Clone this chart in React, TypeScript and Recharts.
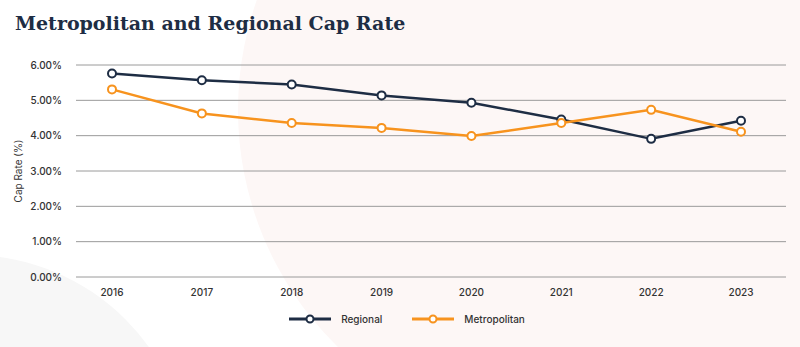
import React from "react";
import { LineChart, Line, XAxis, YAxis, CartesianGrid, Legend, Label } from "recharts";

const years = ["2016", "2017", "2018", "2019", "2020", "2021", "2022", "2023"];
const regional = [5.76, 5.57, 5.45, 5.14, 4.93, 4.46, 3.91, 4.42];
const metropolitan = [5.31, 4.63, 4.36, 4.22, 3.99, 4.36, 4.73, 4.11];
const yTicks = [0, 1, 2, 3, 4, 5, 6];
const legendOrder = ["Regional", "Metropolitan"];

const NAVY = "#1e2d44";
const ORANGE = "#f7931e";

const data = years.map((y, i) => ({ year: y, Regional: regional[i], Metropolitan: metropolitan[i] }));

// legend: line + hollow circle like the original
const renderLegend = (props: any) => {
    const items = [...(props.payload || [])].sort(
        (a: any, b: any) => legendOrder.indexOf(a.value) - legendOrder.indexOf(b.value)
    );
    return (
        <div style={{ display: "flex", justifyContent: "center", gap: 30, paddingTop: 6, paddingLeft: 18, fontFamily: "Inter", fontSize: 10, fontWeight: 500, color: "#333" }}>
            {items.map((it: any) => (
                <div key={it.value} style={{ display: "flex", alignItems: "center" }}>
                    <svg width={42} height={10} style={{ marginRight: 10 }}>
                        <line x1={0} y1={5} x2={42} y2={5} stroke={it.color} strokeWidth={3} />
                        <circle cx={21} cy={5} r={3.5} fill="#fff" stroke={it.color} strokeWidth={2} />
                    </svg>
                    <span>{it.value}</span>
                </div>
            ))}
        </div>
    );
};

export default function App() {
    return (
        <div style={{ position: "fixed", left: 0, top: 0, width: 800, height: 347, overflow: "hidden", background: "#fff" }}>
            {/* decorative background shapes */}
            <div style={{ position: "absolute", left: 238, top: -221, width: 662, height: 662, borderRadius: "50%", background: "#fdf7f6" }} />
            <div style={{ position: "absolute", left: -250, top: 255, width: 440, height: 440, borderRadius: "50%", background: "#f7f7f7" }} />
            <div style={{ position: "absolute", left: 15, top: 12, fontFamily: "DejaVu Serif", fontWeight: "bold", fontSize: 19, color: "#1e2d44" }}>
                Metropolitan and Regional Cap Rate
            </div>
            <div style={{ position: "absolute", left: 0, top: 0 }}>
                <LineChart width={800} height={347} data={data} margin={{ top: 65, right: 14, left: 10, bottom: 0 }}>
                    <CartesianGrid vertical={false} stroke="#9a9a9a" />
                    <XAxis
                        dataKey="year"
                        axisLine={false}
                        tickLine={false}
                        padding={{ left: 36, right: 45 }}
                        tick={{ fontFamily: "Inter", fontSize: 10, fontWeight: 500, fill: "#333" }}
                        tickMargin={6}
                        height={30}
                    />
                    <YAxis
                        domain={[0, 6]}
                        ticks={yTicks}
                        axisLine={false}
                        tickLine={false}
                        width={66}
                        tickFormatter={(v: number) => v.toFixed(2) + "%"}
                        tick={{ fontFamily: "Inter", fontSize: 10, fontWeight: 500, fill: "#333" }}
                        tickMargin={8}
                    >
                        <Label value="Cap Rate (%)" angle={-90} position="insideLeft" offset={8} style={{ fontFamily: "Inter", fontSize: 10, fill: "#333", textAnchor: "middle" }} />
                    </YAxis>
                    <Legend content={renderLegend} verticalAlign="bottom" height={40} />
                    <Line dataKey="Regional" stroke={NAVY} strokeWidth={2.5} dot={{ r: 4, fill: "#fff", stroke: NAVY, strokeWidth: 2 }} isAnimationActive={false} />
                    <Line dataKey="Metropolitan" stroke={ORANGE} strokeWidth={2.5} dot={{ r: 4, fill: "#fff", stroke: ORANGE, strokeWidth: 2 }} isAnimationActive={false} />
                </LineChart>
            </div>
        </div>
    );
}
